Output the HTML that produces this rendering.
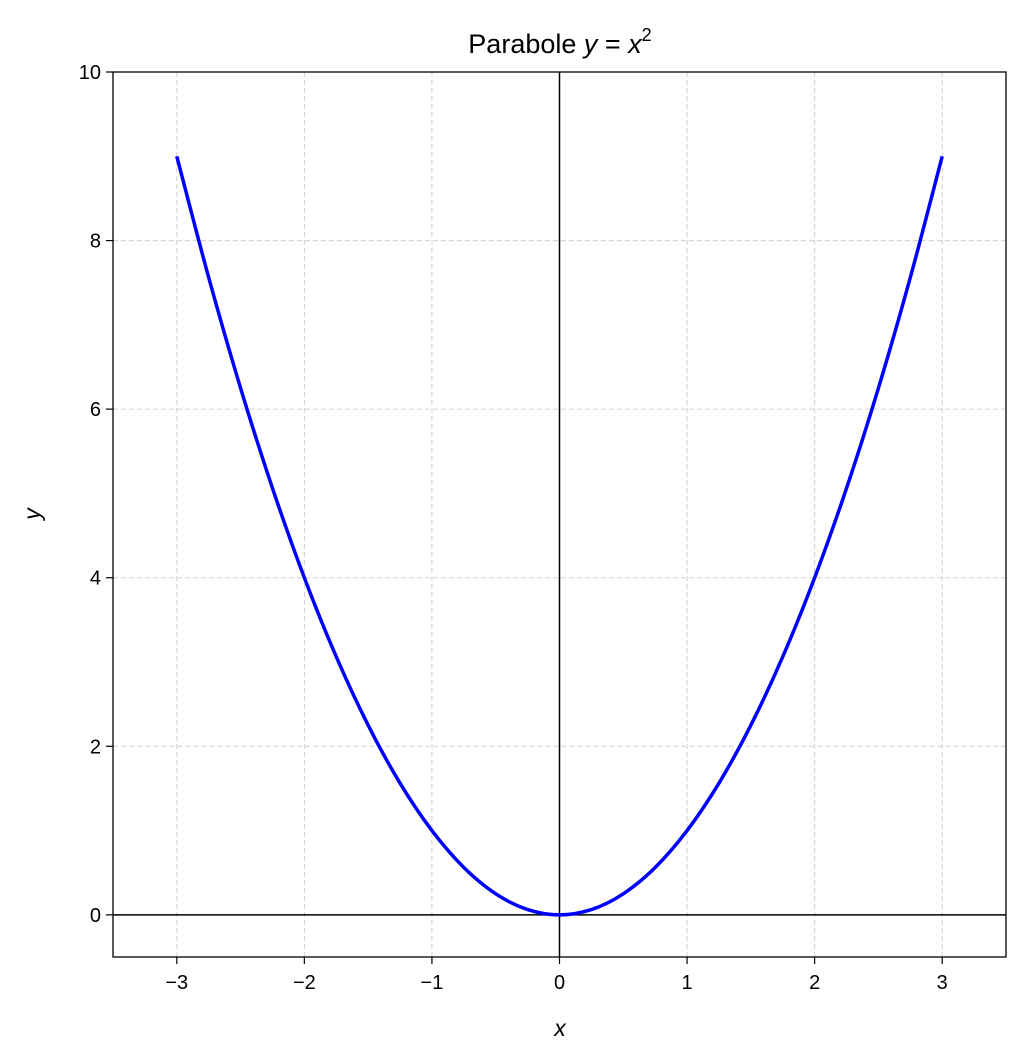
<!DOCTYPE html>
<html><head><meta charset="utf-8"><style>
body{margin:0;background:#fff}
svg{display:block;font-family:"Liberation Sans","DejaVu Sans",sans-serif}
</style></head><body>
<svg id="chart" width="1025" height="1064" viewBox="0 0 1025 1064">
<rect x="0" y="0" width="1025" height="1064" fill="#fff"/>
<g id="grid"></g>
<g id="ticks"></g>
<g id="series"></g>
<rect x="113" y="72" width="893" height="885" fill="none" stroke="#000" stroke-width="1.3"/>
<text x="560" y="53" text-anchor="middle" font-size="27">Parabole <tspan font-style="italic">y</tspan> = <tspan font-style="italic">x</tspan><tspan font-size="18" dy="-12">2</tspan></text>
<text x="560" y="1036" text-anchor="middle" font-size="23" font-style="italic">x</text>
<text x="40" y="514" text-anchor="middle" font-size="23" font-style="italic" transform="rotate(-90 40 514)">y</text>
</svg>
<script>
const xTicks=[-3,-2,-1,0,1,2,3];
const yTicks=[0,2,4,6,8,10];
const xValues=[-3,-2.75,-2.5,-2.25,-2,-1.75,-1.5,-1.25,-1,-0.75,-0.5,-0.25,0,0.25,0.5,0.75,1,1.25,1.5,1.75,2,2.25,2.5,2.75,3];
const yValues=[9,7.5625,6.25,5.0625,4,3.0625,2.25,1.5625,1,0.5625,0.25,0.0625,0,0.0625,0.25,0.5625,1,1.5625,2.25,3.0625,4,5.0625,6.25,7.5625,9];
const X0=113,X1=1006,Y0=957,Y1=72,xmin=-3.5,xmax=3.5,ymin=-0.5,ymax=10;
const sx=v=>X0+(v-xmin)/(xmax-xmin)*(X1-X0);
const sy=v=>Y0-(v-ymin)/(ymax-ymin)*(Y0-Y1);
const NS="http://www.w3.org/2000/svg";
const grid=document.getElementById('grid'),ticks=document.getElementById('ticks'),series=document.getElementById('series');
function mk(t,a,p){const e=document.createElementNS(NS,t);for(const k in a)e.setAttribute(k,a[k]);p.appendChild(e);return e;}
const fmt=v=>v<0?'\u2212'+Math.abs(v):String(v);
xTicks.forEach(v=>{
 const x=sx(v);
 const g=mk('line',{x1:x,x2:x,y1:Y1,y2:Y0,stroke:'#b0b0b0','stroke-width':1,'stroke-dasharray':'5,3','stroke-opacity':0.6},grid);
 
 
 const t=mk('line',{x1:x,x2:x,y1:Y0,y2:Y0+7,stroke:'#000','stroke-width':1.2},ticks);
 
 
 const l=mk('text',{x:x,y:Y0+32,'text-anchor':'middle','font-size':20},ticks);
 l.textContent=fmt(v);
 
 
});
yTicks.forEach(v=>{
 const y=sy(v);
 const g=mk('line',{x1:X0,x2:X1,y1:y,y2:y,stroke:'#b0b0b0','stroke-width':1,'stroke-dasharray':'5,3','stroke-opacity':0.6},grid);
 
 
 const t=mk('line',{x1:X0-7,x2:X0,y1:y,y2:y,stroke:'#000','stroke-width':1.2},ticks);
 
 
 const l=mk('text',{x:X0-12,y:y+7,'text-anchor':'end','font-size':20},ticks);
 l.textContent=fmt(v);
 
 
});
const ax=mk('line',{x1:sx(0),x2:sx(0),y1:Y1,y2:Y0,stroke:'#000','stroke-width':1.5},series);


const ay=mk('line',{x1:X0,x2:X1,y1:sy(0),y2:sy(0),stroke:'#000','stroke-width':1.5},series);


// smooth Catmull-Rom path through data points
const P=xValues.map((v,i)=>[sx(v),sy(yValues[i])]);
let d='M'+P[0][0].toFixed(2)+','+P[0][1].toFixed(2);
for(let i=0;i<P.length-1;i++){
 const p0=P[i-1]||P[i],p1=P[i],p2=P[i+1],p3=P[i+2]||P[i+1];
 const c1=[p1[0]+(p2[0]-p0[0])/6,p1[1]+(p2[1]-p0[1])/6];
 const c2=[p2[0]-(p3[0]-p1[0])/6,p2[1]-(p3[1]-p1[1])/6];
 d+='C'+c1[0].toFixed(2)+','+c1[1].toFixed(2)+' '+c2[0].toFixed(2)+','+c2[1].toFixed(2)+' '+p2[0].toFixed(2)+','+p2[1].toFixed(2);
}
const p=mk('path',{d:d,fill:'none',stroke:'#0000ff','stroke-width':3.5,'stroke-linejoin':'round'},series);


</script>
</body></html>
